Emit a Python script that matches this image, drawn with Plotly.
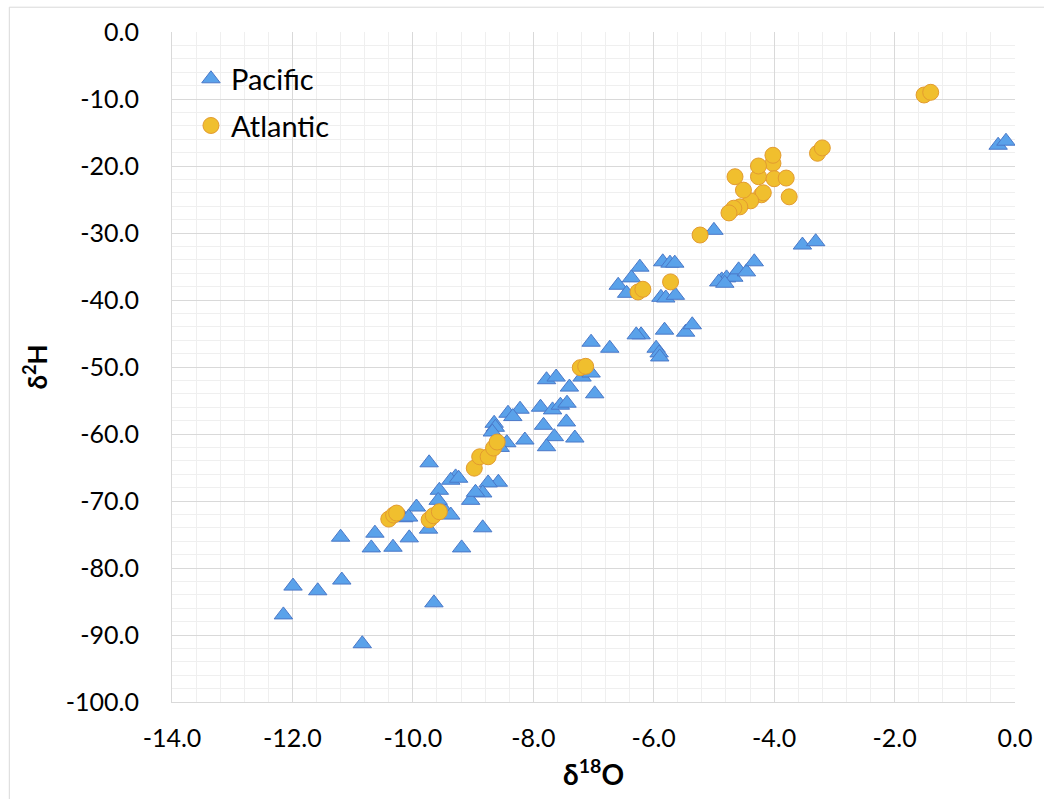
import plotly.graph_objects as go

# Stable isotope composition of precipitation samples (per mil, VSMOW)
pacific_d18o = [
    -0.28, -0.15, -3.53, -3.31, -5.00, -4.87, -4.79, -4.67, -4.59, -4.46,
    -4.33, -4.92, -4.82, -5.85, -5.73, -5.65, -6.23, -6.37, -6.59, -6.45,
    -5.88, -5.80, -5.64, -6.21, -6.29, -5.82, -5.47, -5.36, -7.04, -6.73,
    -5.96, -5.91, -5.90, -7.78, -7.62, -7.40, -7.19, -7.04, -6.98, -7.88,
    -7.68, -7.55, -7.44, -7.83, -7.45, -7.65, -7.78, -7.31, -8.42, -8.22,
    -8.34, -8.65, -8.63, -8.68, -8.14, -8.44, -9.73, -9.29, -9.37, -9.24,
    -9.56, -8.58, -8.75, -9.04, -8.84, -8.96, -8.84, -9.94, -9.45, -9.37,
    -9.74, -10.06, -10.33, -9.19, -10.15, -10.07, -11.20, -10.63, -10.69, -11.99,
    -11.58, -11.18, -12.15, -10.84, -9.65, -9.58, -8.55,
]
pacific_d2h = [
    -16.9, -16.3, -31.8, -31.3, -29.6, -37.0, -36.7, -36.6, -35.5, -35.8,
    -34.3, -37.3, -37.5, -34.3, -34.5, -34.5, -35.1, -36.7, -37.8, -39.0,
    -39.6, -39.7, -39.3, -45.2, -45.2, -44.5, -44.8, -43.7, -46.3, -47.2,
    -47.2, -47.9, -48.5, -51.9, -51.5, -53.0, -51.5, -50.9, -54.0, -56.0,
    -56.4, -55.7, -55.4, -58.7, -58.2, -60.4, -61.9, -60.6, -56.9, -56.3,
    -57.4, -58.4, -59.0, -59.7, -60.9, -61.3, -64.3, -66.4, -66.9, -66.6,
    -68.4, -67.2, -67.3, -69.9, -68.8, -68.7, -74.0, -70.9, -71.6, -72.1,
    -74.2, -75.5, -76.9, -77.0, -72.5, -72.4, -75.4, -74.8, -77.0, -82.7,
    -83.4, -81.8, -87.0, -91.3, -85.2, -69.9, -62.0,
]

atlantic_d18o = [
    -1.51, -1.40, -3.28, -3.20, -4.02, -4.02, -4.26, -4.26, -4.00, -3.80,
    -3.75, -4.21, -4.18, -4.39, -4.51, -4.65, -4.57, -4.67, -4.75, -5.23,
    -6.26, -6.18, -5.72, -7.22, -7.13, -8.98, -8.89, -8.75, -8.66, -8.60,
    -10.40, -10.32, -10.27, -9.73, -9.66, -9.56,
]
atlantic_d2h = [
    -9.4, -9.0, -18.1, -17.3, -19.6, -18.4, -21.6, -20.0, -21.9, -21.8,
    -24.6, -24.3, -24.0, -25.2, -23.6, -21.6, -26.1, -26.3, -27.0, -30.3,
    -38.8, -38.4, -37.3, -50.1, -49.9, -65.1, -63.4, -63.4, -62.1, -61.2,
    -72.7, -72.1, -71.8, -72.8, -72.2, -71.6,
]

x_ticks = [-14, -12, -10, -8, -6, -4, -2, 0]
x_tick_labels = ["-14.0", "-12.0", "-10.0", "-8.0", "-6.0", "-4.0", "-2.0", "0.0"]
y_ticks = [0, -10, -20, -30, -40, -50, -60, -70, -80, -90, -100]
y_tick_labels = ["0.0", "-10.0", "-20.0", "-30.0", "-40.0", "-50.0",
                 "-60.0", "-70.0", "-80.0", "-90.0", "-100.0"]

FONT = "Lato, 'Open Sans', sans-serif"

fig = go.Figure()
fig.add_trace(go.Scatter(
    x=pacific_d18o, y=pacific_d2h, mode="markers", name="Pacific",
    legendgroup="p",
    marker=dict(symbol="triangle-up", size=16, color="#5AA2EA",
                line=dict(color="#4A78C8", width=1)),
))
fig.add_trace(go.Scatter(
    x=atlantic_d18o, y=atlantic_d2h, mode="markers", name="Atlantic",
    legendgroup="a",
    marker=dict(symbol="circle", size=16, color="#F0BF2E",
                line=dict(color="#E39B30", width=1)),
))

axis_common = dict(
    showgrid=True, gridcolor="#d9d9d9", gridwidth=1,
    zeroline=False, showline=True, linecolor="#d9d9d9", linewidth=1,
    ticks="", tickfont=dict(family=FONT, size=25, color="#000000"),
    ticklabeloverflow="allow",
    mirror=False,
)

fig.update_xaxes(
    range=[-14, 0], tickvals=x_ticks, ticktext=x_tick_labels,
    minor=dict(dtick=0.4, showgrid=True, gridcolor="#efefef", gridwidth=1),
    ticklabelstandoff=14,
    title=dict(text="<b>δ<sup>18</sup>O</b>", font=dict(family=FONT, size=28, color="#000"),
               standoff=14),
    **axis_common,
)
fig.update_yaxes(
    range=[-100, 0], tickvals=y_ticks, ticktext=y_tick_labels,
    minor=dict(dtick=2, showgrid=True, gridcolor="#efefef", gridwidth=1),
    ticklabelstandoff=27,
    title=dict(text="<b>δ<sup>2</sup>H</b>", font=dict(family=FONT, size=26, color="#000"),
               standoff=10),
    **axis_common,
)

fig.update_layout(
    width=1044, height=799,
    margin=dict(l=172, r=17, t=32, b=97, pad=0),
    paper_bgcolor="white", plot_bgcolor="white",
    font=dict(family=FONT, color="#000"),
    showlegend=True,
    legend=dict(
        x=0.0225, y=0.968, xanchor="left", yanchor="top",
        bgcolor="rgba(255,255,255,0)", borderwidth=0,
        font=dict(family=FONT, size=29, color="#000"),
        traceorder="grouped", tracegroupgap=6,
    ),
    shapes=[dict(
        type="rect", xref="paper", yref="paper",
        x0=-0.193, x1=1.1, y0=-0.2, y1=1.037,
        line=dict(color="#d9d9d9", width=1), fillcolor="rgba(0,0,0,0)",
        layer="below",
    )],
)

fig.write_html("out.html")
